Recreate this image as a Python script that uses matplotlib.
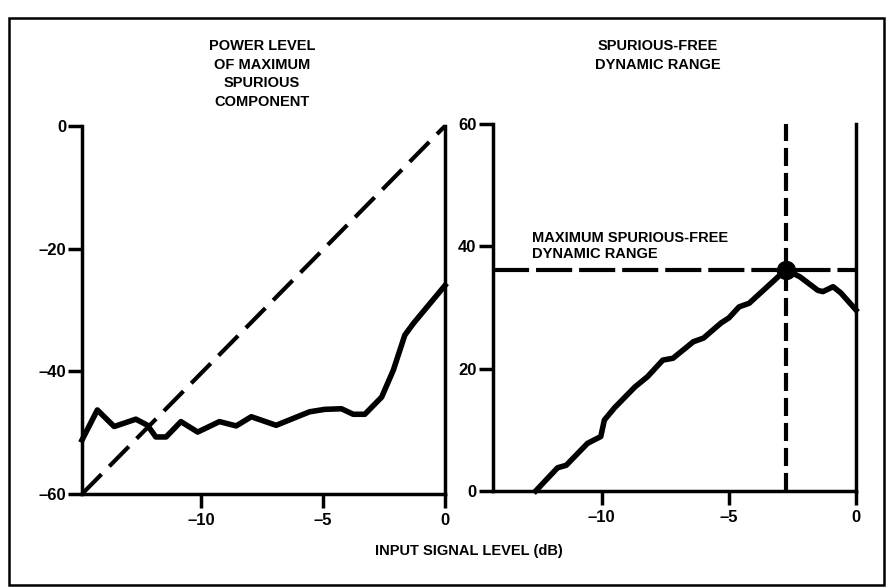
import numpy as np
import matplotlib
matplotlib.use("Agg")
import matplotlib.pyplot as plt
from matplotlib.patches import Rectangle
from matplotlib.ticker import FuncFormatter

plt.rcParams['font.family'] = ['Liberation Sans Narrow', 'Liberation Sans', 'DejaVu Sans']
plt.rcParams['font.weight'] = 'bold'
plt.rcParams['lines.scale_dashes'] = False

# left panel: power level of maximum spurious component (dB)
spur_x = [-14.9, -14.27, -13.58, -12.69, -12.21, -11.87, -11.45, -10.84, -10.15,
          -9.26, -8.57, -7.95, -6.93, -5.56, -4.94, -4.25, -3.77, -3.29, -2.60,
          -2.12, -1.65, -1.30, 0.0]
spur_y = [-51.2, -46.3, -49.0, -47.8, -48.8, -50.7, -50.7, -48.2, -49.9,
          -48.2, -48.9, -47.4, -48.8, -46.6, -46.2, -46.1, -47.0, -47.0, -44.2,
          -39.8, -34.1, -32.2, -26.0]

# right panel: spurious-free dynamic range (dB)
sfdr_x = [-12.6, -11.74, -11.4, -10.56, -10.04, -9.9, -9.5, -8.7, -8.2, -7.6,
          -7.2, -6.4, -6.0, -5.3, -5.0, -4.6, -4.2, -3.2, -2.76, -2.2, -1.5,
          -1.3, -0.9, -0.6, 0.0]
sfdr_y = [0.0, 3.8, 4.2, 7.8, 8.9, 11.6, 13.6, 17.0, 18.7, 21.4,
          21.7, 24.4, 25.0, 27.5, 28.3, 30.1, 30.7, 34.5, 36.2, 35.0, 32.8,
          32.6, 33.4, 32.4, 29.6]

peak_x = -2.76
peak_y = 36.2

left_ticks_x = [-10, -5, 0]
left_ticks_y = [0, -20, -40, -60]
right_ticks_y = [0, 20, 40, 60]

W, H = 886, 587
fig = plt.figure(figsize=(W / 100, H / 100), dpi=100)

ax1 = fig.add_axes([82 / W, 1 - 494 / H, 363 / W, 368 / H])
ax2 = fig.add_axes([492.5 / W, 1 - 491 / H, 363.5 / W, 367 / H])

fs = 10.5
lw_spine = 2.5
dash_fmt = FuncFormatter(lambda v, pos: f"{v:g}".replace("-", "\u2013"))

for ax in (ax1, ax2):
    ax.spines['top'].set_visible(False)
    for s in ('left', 'right', 'bottom'):
        ax.spines[s].set_linewidth(lw_spine)
    ax.tick_params(axis='x', direction='out', length=10, width=lw_spine, pad=4,
                   labelsize=12, top=False)
    ax.tick_params(axis='y', direction='out', length=10, width=lw_spine, pad=1.5,
                   labelsize=12, right=False)
    ax.xaxis.set_major_formatter(dash_fmt)
    ax.yaxis.set_major_formatter(dash_fmt)

# left panel
ax1.set_xlim(-14.9, 0)
ax1.set_ylim(-60, 0)
ax1.set_xticks(left_ticks_x)
ax1.set_yticks(left_ticks_y)
ax1.plot([-14.9, 0], [-60, 0], color='black', lw=3.0, dashes=(20, 8),
         solid_capstyle='butt', clip_on=False)
ax1.plot(spur_x, spur_y, color='black', lw=4.0, solid_joinstyle='round', clip_on=False)

# right panel
ax2.set_xlim(-14.3, 0)
ax2.set_ylim(0, 60)
ax2.set_xticks(left_ticks_x)
ax2.set_yticks(right_ticks_y)
ax2.plot([-14.3, 0], [peak_y, peak_y], color='black', lw=3.0, dashes=(26, 5), clip_on=False)
ax2.axvline(peak_x, color='black', lw=3.0, dashes=(13, 5))
ax2.plot(sfdr_x, sfdr_y, color='black', lw=4.0, solid_joinstyle='round', clip_on=False)
ax2.plot([peak_x], [peak_y], 'o', color='black', ms=13, clip_on=False)

for ax in (ax1, ax2):
    for lab in ax.get_xticklabels() + ax.get_yticklabels():
        lab.set_fontweight('bold')

fig.text(262 / W, 1 - 39 / H, "POWER LEVEL\nOF MAXIMUM\nSPURIOUS\nCOMPONENT",
         ha='center', va='top', fontsize=fs, fontweight='bold', linespacing=1.42)
fig.text(658 / W, 1 - 39 / H, "SPURIOUS-FREE\nDYNAMIC RANGE",
         ha='center', va='top', fontsize=fs, fontweight='bold', linespacing=1.42)
ax2.text(-12.75, 37.6, "MAXIMUM SPURIOUS-FREE\nDYNAMIC RANGE", ha='left', va='bottom',
         fontsize=fs, fontweight='bold', linespacing=1.15)
fig.text(469 / W, 1 - 551 / H, "INPUT SIGNAL LEVEL (dB)", ha='center', va='center',
         fontsize=fs, fontweight='bold')

# outer frame
fig.patches.append(Rectangle((9 / W, 1 - 585 / H), 875 / W, 567 / H, fill=False,
                             lw=1.8, ec='black', transform=fig.transFigure, figure=fig))

fig.savefig("out.png", dpi=100)
